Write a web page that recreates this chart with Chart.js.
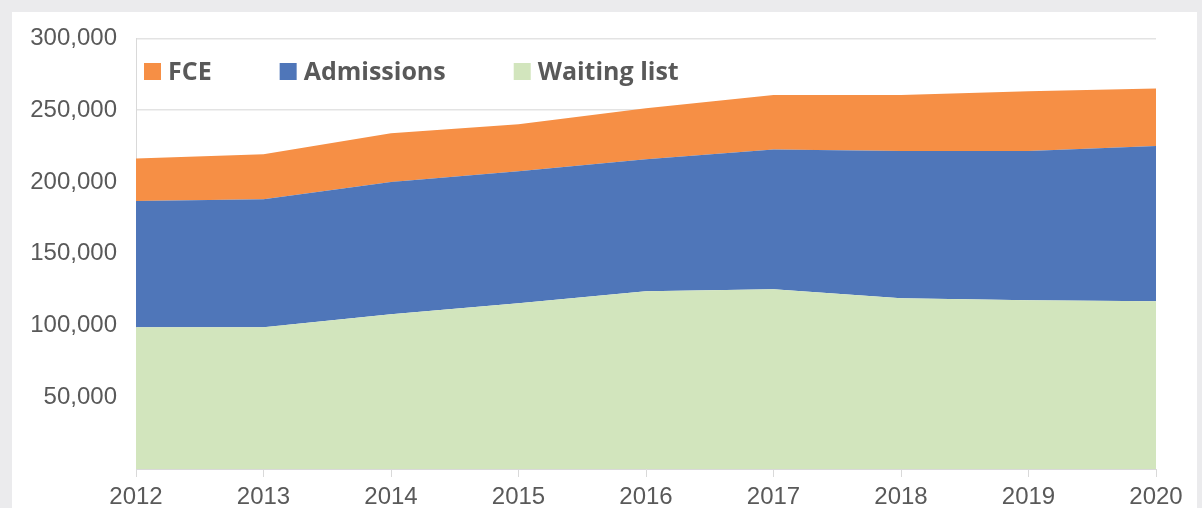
<!DOCTYPE html>
<html>
<head>
<meta charset="utf-8">
<script src="https://cdn.jsdelivr.net/npm/chart.js@4/dist/chart.umd.min.js"></script>
<style>
  html, body { margin: 0; padding: 0; background: #ebebed; }
  #panel { position: absolute; left: 12px; top: 12px; width: 1185px; height: 496px; background: #ffffff; }
  canvas { display: block; }
</style>
</head>
<body>
<div id="panel"><canvas id="chart" width="1185" height="496"></canvas></div>
<script>
// Chart data
const years = ['2012', '2013', '2014', '2015', '2016', '2017', '2018', '2019', '2020'];
const waitingList = [98800, 98800, 107800, 115500, 123900, 125300, 119000, 117600, 116900];
const admissions = [88000, 89200, 92200, 92000, 92000, 97300, 102600, 104000, 108200];
const fce = [29500, 31400, 34000, 32800, 35500, 38100, 39100, 41700, 40000];
const yTicks = [0, 50000, 100000, 150000, 200000, 250000, 300000];

const textColor = '#595959';
const axisFont = { family: '"Liberation Sans", Arial, sans-serif', size: 24 };

// Legend drawn inside the plot area, top-left, in stacking order (top first)
const insideLegend = {
  id: 'insideLegend',
  afterDraw(chart) {
    const ctx = chart.ctx;
    const area = chart.chartArea;
    const items = chart.data.datasets.slice().reverse();
    let x = area.left + 8;
    const cy = area.top + 33;
    ctx.save();
    ctx.font = 'bold 25px "Open Sans", sans-serif';
    ctx.textBaseline = 'middle';
    items.forEach(ds => {
      ctx.fillStyle = ds.backgroundColor;
      ctx.fillRect(x, cy - 8.5, 17, 17);
      x += 24;
      ctx.fillStyle = textColor;
      ctx.fillText(ds.label, x, cy + 1);
      x += ctx.measureText(ds.label).width + 68;
    });
    ctx.restore();
  }
};

const ctx = document.getElementById('chart').getContext('2d');
new Chart(ctx, {
  type: 'line',
  data: {
    labels: years,
    datasets: [
      { label: 'Waiting list', data: waitingList, backgroundColor: 'rgb(210,229,189)', fill: 'origin' },
      { label: 'Admissions', data: admissions, backgroundColor: 'rgb(79,118,185)', fill: '-1' },
      { label: 'FCE', data: fce, backgroundColor: 'rgb(246,143,69)', fill: '-1' }
    ]
  },
  options: {
    responsive: false,
    animation: false,
    layout: { padding: { top: 26.5, right: 41, left: 0, bottom: 0 } },
    elements: {
      line: { borderWidth: 0, tension: 0 },
      point: { radius: 0 }
    },
    plugins: {
      legend: { display: false },
      tooltip: { enabled: false }
    },
    scales: {
      x: {
        offset: false,
        grid: { drawOnChartArea: false, drawTicks: true, tickLength: 8, color: '#d9d9d9' },
        border: { display: true, color: '#d9d9d9' },
        ticks: { color: textColor, font: axisFont, padding: 6, maxRotation: 0 },
        afterFit(scale) { scale.height = 39; }
      },
      y: {
        stacked: true,
        min: yTicks[0],
        max: yTicks[yTicks.length - 1],
        afterBuildTicks(scale) { scale.ticks = yTicks.map(v => ({ value: v })); },
        grid: { color: '#e3e3e3', lineWidth: 1.5, drawTicks: false },
        border: { display: true, color: '#d9d9d9' },
        ticks: {
          color: textColor,
          font: axisFont,
          padding: 19,
          callback: v => v === 0 ? '' : v.toLocaleString('en-US')
        },
        afterFit(scale) {
          scale.width = 124;
          scale.paddingTop = 0;
          scale.paddingBottom = 0;
        }
      }
    }
  },
  plugins: [insideLegend]
});
</script>
</body>
</html>
